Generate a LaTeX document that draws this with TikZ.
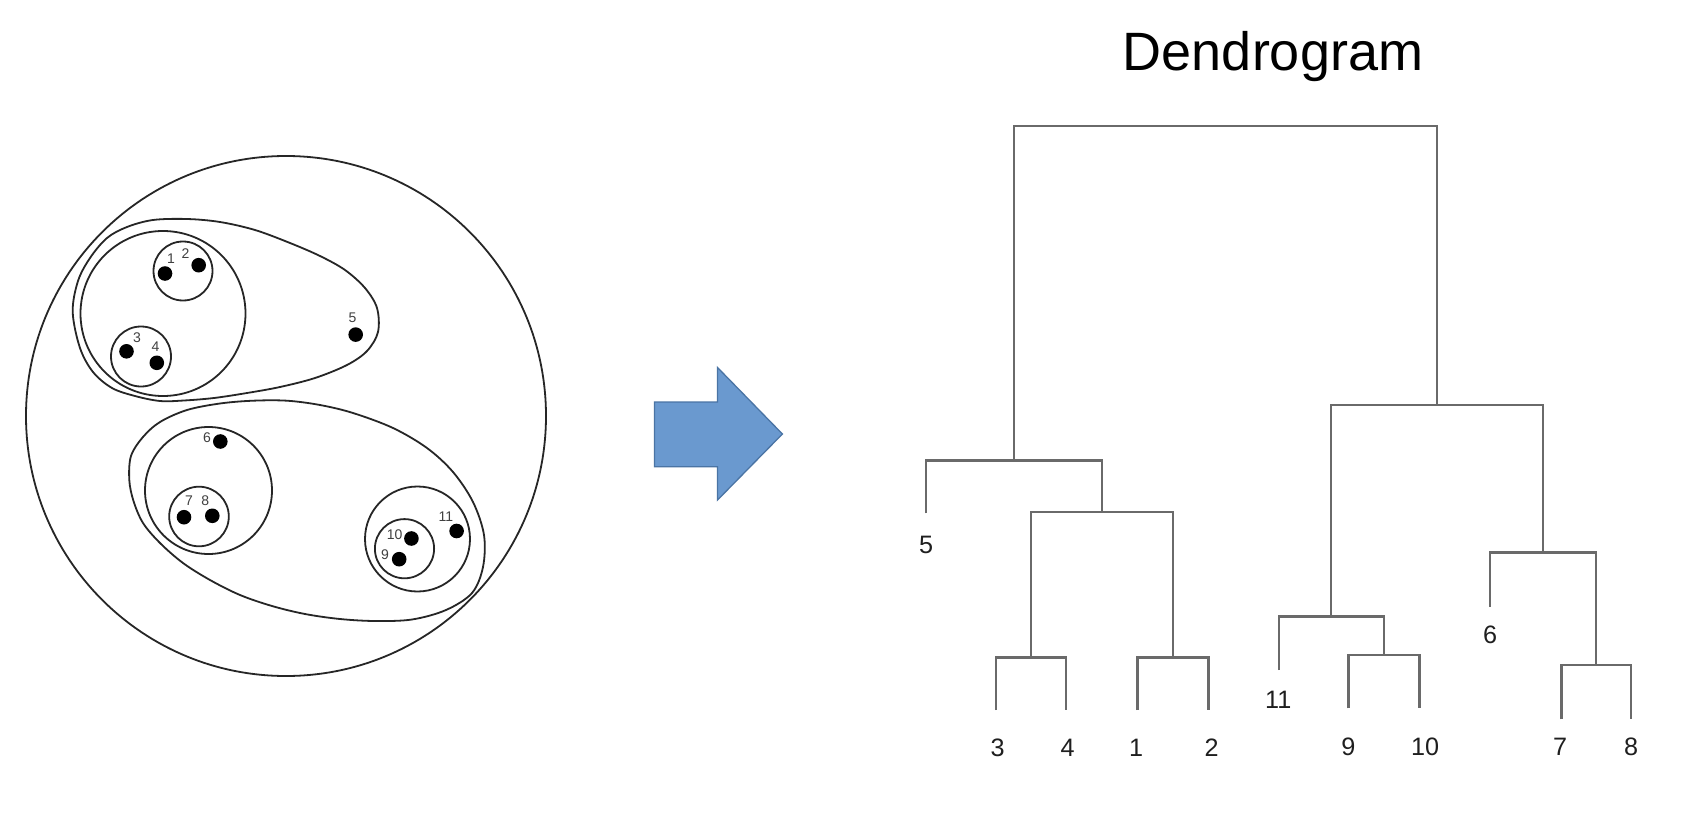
\documentclass[tikz,border=0pt]{standalone}
\usepackage{fontspec}
\setmainfont{Liberation Sans}
\definecolor{arrowfill}{HTML}{6A99CF}
\definecolor{arrowedge}{HTML}{4A74A4}
\definecolor{dgray}{HTML}{6A6A6A}
\begin{document}
\begin{tikzpicture}[x=0.5pt,y=-0.5pt,
  ring/.style={draw=black!85, line width=0.9pt},
  ptdot/.style={fill=black},
  plab/.style={font=\fontsize{7}{8}\selectfont, text=black!75, inner sep=0pt},
  dline/.style={draw=dgray, line width=1.25pt},
  dlab/.style={font=\fontsize{12.6}{14}\selectfont, text=black!88, inner sep=0pt},
]
\useasboundingbox[fill=white] (0,0) rectangle (1692,824);

% ---------- cluster diagram ----------
\draw[ring] (286,416) circle[radius=130pt];
% top blob (1-5)
\draw[ring] plot[smooth cycle, tension=0.55] coordinates {
  (72.7,312) (78,281) (90,258) (107,238) (127,227) (153,220) (187,219)
  (220,222) (255,230) (290,243) (320,256) (345,270) (365,288) (377,308)
  (378,332) (367,351) (347,365) (315,378) (280,387) (247,393) (214,398)
  (184,400.5) (160,401) (135,396) (112,388) (93,372) (80,348)};
\draw[ring] (163,313.5) circle[radius=41.25pt];
\draw[ring] (183,271) circle[radius=14.75pt];
\draw[ring] (141,356.5) circle[radius=15pt];
% bottom blob (6-11)
\draw[ring] plot[smooth cycle, tension=0.55] coordinates {
  (129.3,480) (131,456) (143,437) (160,422) (187,410) (220,403.5)
  (253,400.7) (287,400.7) (320,405) (353,413) (393,428) (427,448)
  (453,472) (473,502) (484,535) (483,567) (472,593) (446,610) (412,619.5)
  (375,621) (340,619) (305,614) (272,606) (240,595) (210,580) (183,563)
  (160,543) (143,523) (133.5,501)};
\draw[ring] (208.5,490.5) circle[radius=31.75pt];
\draw[ring] (199,516.5) circle[radius=14.9pt];
\draw[ring] (417.5,539) circle[radius=26.25pt];
\draw[ring] (404.5,548.7) circle[radius=14.8pt];

% points
\fill[ptdot] (165,273.5) circle[radius=3.65pt];
\fill[ptdot] (198.7,265.2) circle[radius=3.65pt];
\fill[ptdot] (126.5,351.3) circle[radius=3.65pt];
\fill[ptdot] (156.8,362.8) circle[radius=3.65pt];
\fill[ptdot] (355.7,334.6) circle[radius=3.65pt];
\fill[ptdot] (220.3,441.5) circle[radius=3.65pt];
\fill[ptdot] (184,517.2) circle[radius=3.65pt];
\fill[ptdot] (212.3,515.8) circle[radius=3.65pt];
\fill[ptdot] (411.4,538.5) circle[radius=3.65pt];
\fill[ptdot] (399.2,559.2) circle[radius=3.65pt];
\fill[ptdot] (456.6,531) circle[radius=3.65pt];

% point labels
\node[plab] (p1) at (171,258.5) {1};
\node[plab] (p2) at (185.5,253.5) {2};
\node[plab] (p3) at (137,338) {3};
\node[plab] (p4) at (155.5,347) {4};
\node[plab] (p5) at (352.5,317.5) {5};
\node[plab] (p6) at (207,437.5) {6};
\node[plab] (p7) at (189,500.5) {7};
\node[plab] (p8) at (205.3,500.5) {8};
\node[plab] (p9) at (385,554.8) {9};
\node[plab] (p10) at (394.6,534.2) {10};
\node[plab] (p11) at (446,516.6) {11};

% ---------- arrow ----------
\draw[draw=arrowedge, fill=arrowfill, line width=0.65pt]
  (654.4,402) -- (717.5,402) -- (717.5,367.5) -- (782.4,434)
  -- (717.5,500) -- (717.5,466.7) -- (654.4,466.7) -- cycle;

% ---------- dendrogram ----------
\node[font=\fontsize{27}{30}\selectfont, anchor=base, inner sep=0pt] (title) at (1273,71) {Dendrogram};

\coordinate (L5) at (926,513.3);
\coordinate (L3) at (996,710);
\coordinate (L4) at (1066,710);
\coordinate (L1) at (1137.3,710);
\coordinate (L2) at (1208.3,710);
\coordinate (L11) at (1279,670);
\coordinate (L9) at (1348.3,708.3);
\coordinate (L10) at (1419.3,708.3);
\coordinate (L6) at (1490,606.7);
\coordinate (L7) at (1561.7,719.3);
\coordinate (L8) at (1631,719.3);

\coordinate (M34) at (1031,657.3);
\coordinate (M12) at (1172.8,657.3);
\coordinate (M1234) at (1102,512);
\coordinate (M5) at (1014,460.7);
\coordinate (M910) at (1384,655);
\coordinate (M11) at (1331,616.7);
\coordinate (M78) at (1596,665);
\coordinate (M6) at (1543,552.3);
\coordinate (MR) at (1437,405);
\coordinate (MT) at (1225.5,126);

\draw[dline] (L3) |- (M34) -| (L4);
\draw[dline] (L1) |- (M12) -| (L2);
\draw[dline] (M34) |- (M1234) -| (M12);
\draw[dline] (L5) |- (M5) -| (M1234);
\draw[dline] (L9) |- (M910) -| (L10);
\draw[dline] (L11) |- (M11) -| (M910);
\draw[dline] (L7) |- (M78) -| (L8);
\draw[dline] (L6) |- (M6) -| (M78);
\draw[dline] (M11) |- (MR) -| (M6);
\draw[dline] (M5) |- (MT) -| (MR);

\node[dlab] (t5) at (926,545) {5};
\node[dlab] (t3) at (997.5,748) {3};
\node[dlab] (t4) at (1067.5,748) {4};
\node[dlab] (t1) at (1136,748) {1};
\node[dlab] (t2) at (1211.5,748) {2};
\node[dlab] (t11) at (1278.3,700) {11};
\node[dlab] (t9) at (1348.3,747) {9};
\node[dlab] (t10) at (1425,747) {10};
\node[dlab] (t6) at (1490,635) {6};
\node[dlab] (t7) at (1560,747) {7};
\node[dlab] (t8) at (1631,747) {8};
\end{tikzpicture}
\end{document}
